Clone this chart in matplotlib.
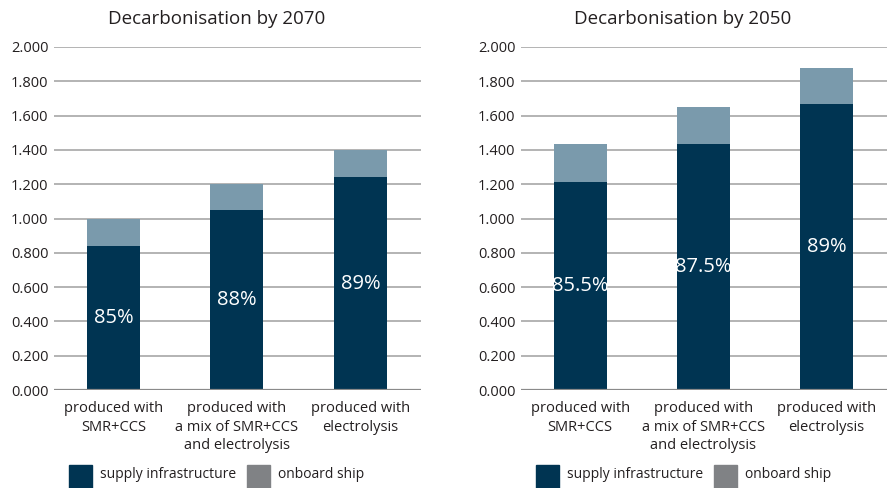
import numpy as np
import matplotlib
matplotlib.use('Agg')
import matplotlib.pyplot as plt
from matplotlib.patches import Rectangle

plt.rcParams['font.family'] = ['Open Sans', 'DejaVu Sans']

categories = ['produced with\nSMR+CCS',
              'produced with\na mix of SMR+CCS\nand electrolysis',
              'produced with\nelectrolysis']

titles = ['Decarbonisation by 2070', 'Decarbonisation by 2050']

supply_2070 = [0.84, 1.05, 1.24]
onboard_2070 = [0.16, 0.15, 0.16]
labels_2070 = ['85%', '88%', '89%']

supply_2050 = [1.21, 1.435, 1.668]
onboard_2050 = [0.225, 0.215, 0.21]
labels_2050 = ['85.5%', '87.5%', '89%']

yticks = [0.0, 0.2, 0.4, 0.6, 0.8, 1.0, 1.2, 1.4, 1.6, 1.8, 2.0]
legend_labels = ['supply infrastructure', 'onboard ship']

DARK = '#003452'
LIGHT = '#7a9aac'
LEGEND_GREY = '#808285'
GRID = '#b3b3b3'
TEXT = '#231f20'

W, H = 893, 488


def draw_panel(ax, supply, onboard, labels):
    x = np.arange(len(categories))
    ax.bar(x, supply, width=0.43, color=DARK, zorder=3)
    ax.bar(x, onboard, width=0.43, bottom=supply, color=LIGHT, zorder=3)
    for xi, s, lab in zip(x, supply, labels):
        ax.text(xi, s / 2, lab, ha='center', va='center', color='white',
                fontsize=14.5, zorder=4)
    ax.set_ylim(0, 2.0)
    ax.set_xlim(-0.48, 2.49)
    ax.set_yticks(yticks)
    ax.set_yticklabels(['%.3f' % v for v in yticks], fontsize=10.5, color=TEXT)
    ax.set_xticks(x)
    ax.set_xticklabels(categories, fontsize=10.5, color=TEXT, linespacing=1.32)
    ax.tick_params(axis='both', length=0, pad=4)
    ax.tick_params(axis='x', pad=8)
    for sp in ax.spines.values():
        sp.set_visible(False)
    for v in yticks[1:]:
        ax.axhline(v, color=GRID, lw=1.4, zorder=1)
    ax.axhline(0, color='#8a8a8a', lw=1.6, zorder=4)


fig = plt.figure(figsize=(W / 100, H / 100), dpi=100)
ax1 = fig.add_axes([54 / W, 1 - 390 / H, 367 / W, 343 / H])
ax2 = fig.add_axes([521 / W, 1 - 390 / H, 366 / W, 343 / H])

draw_panel(ax1, supply_2070, onboard_2070, labels_2070)
draw_panel(ax2, supply_2050, onboard_2050, labels_2050)

fig.text(217 / W, 1 - 19 / H, titles[0], ha='center', va='center',
         fontsize=13.5, color=TEXT)
fig.text(683 / W, 1 - 19 / H, titles[1], ha='center', va='center',
         fontsize=13.5, color=TEXT)

# legends, drawn by hand under each panel
for x0 in (69, 536):
    for (dx, col), lab in zip(((0, DARK), (178, LEGEND_GREY)), legend_labels):
        fig.patches.append(Rectangle(((x0 + dx) / W, 0), 23 / W, 23 / H,
                                     transform=fig.transFigure, color=col))
        fig.text((x0 + dx + 31) / W, 1 - 475 / H, lab, ha='left',
                 va='center', fontsize=10, color=TEXT)

fig.savefig('out.png', dpi=100)
